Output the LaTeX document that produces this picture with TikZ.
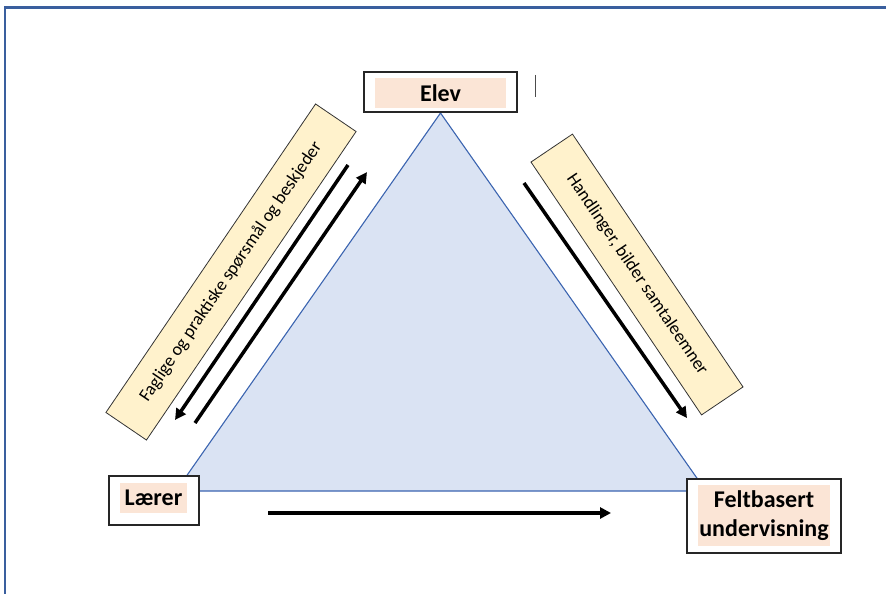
\documentclass[tikz,border=0pt]{standalone}
\usepackage{fontspec}
\setmainfont{Carlito}
\usetikzlibrary{arrows.meta}
\definecolor{tribg}{HTML}{DAE3F3}
\definecolor{triline}{HTML}{3B64B0}
\definecolor{peach}{HTML}{FBE5D6}
\definecolor{paleyel}{HTML}{FFF2CC}
\definecolor{framec}{HTML}{3A5F9E}
\tikzset{
  outerbox/.style={draw=black!85, line width=1.1pt, fill=white, inner sep=0pt},
  innerbox/.style={fill=peach, inner sep=0pt, font=\fontsize{24}{29}\selectfont\bfseries, align=center},
  labelbox/.style={draw=black!80, line width=0.8pt, fill=paleyel, inner sep=0pt, font=\fontsize{18}{21}\selectfont},
  flow/.style={line width=3.5pt, -{Triangle[length=11pt,width=11pt]}},
}
\begin{document}
\begin{tikzpicture}[x=1pt,y=-1pt]
\useasboundingbox (0,0) rectangle (886,594);
% frame
\draw[framec, line width=2.5pt] (5,594) -- (5,7.5) -- (886,7.5);
% triangle
\coordinate (top) at (440.5,113);
\coordinate (bl) at (176,491);
\coordinate (br) at (706,491);
\draw[triline, line width=1.1pt, fill=tribg] (top) -- (bl) -- (br) -- cycle;
% corner boxes
\node[outerbox, minimum width=153pt, minimum height=40pt] (elev) at (440.5,92) {};
\node[innerbox, minimum width=131pt, minimum height=30pt] (elevIn) at (440.5,93) {Elev};
\node[outerbox, minimum width=90pt, minimum height=49pt] (laerer) at (154,500.5) {};
\node[innerbox, minimum width=67pt, minimum height=30pt] (laererIn) at (153.5,498) {Lærer};
\node[outerbox, minimum width=154pt, minimum height=74pt] (felt) at (764,516) {};
\node[innerbox, minimum width=132pt, minimum height=61pt] (feltIn) at (764,515.5) {Feltbasert\\undervisning};
% stray cursor mark
\draw[black!70, line width=0.9pt] (535,75) -- (535,97);
% label boxes
\node[labelbox, minimum width=373pt, minimum height=49pt, rotate=55.8] (lblL) at (231,272) {Faglige og praktiske spørsmål og beskjeder};
\node[labelbox, minimum width=305pt, minimum height=50pt, rotate=-56] (lblR) at (637,274.5) {Handlinger, bilder samtaleemner};
% arrows
\coordinate (a1s) at (348,165);
\coordinate (a1e) at (175,420);
\coordinate (a2s) at (195,423);
\coordinate (a2e) at (367,172);
\coordinate (a3s) at (524,183);
\coordinate (a3e) at (687,418);
\coordinate (a4s) at (268,513);
\coordinate (a4e) at (611,513);
\draw[flow] (a1s) -- (a1e);
\draw[flow] (a2s) -- (a2e);
\draw[flow] (a3s) -- (a3e);
\draw[flow] (a4s) -- (a4e);
\end{tikzpicture}
\end{document}
